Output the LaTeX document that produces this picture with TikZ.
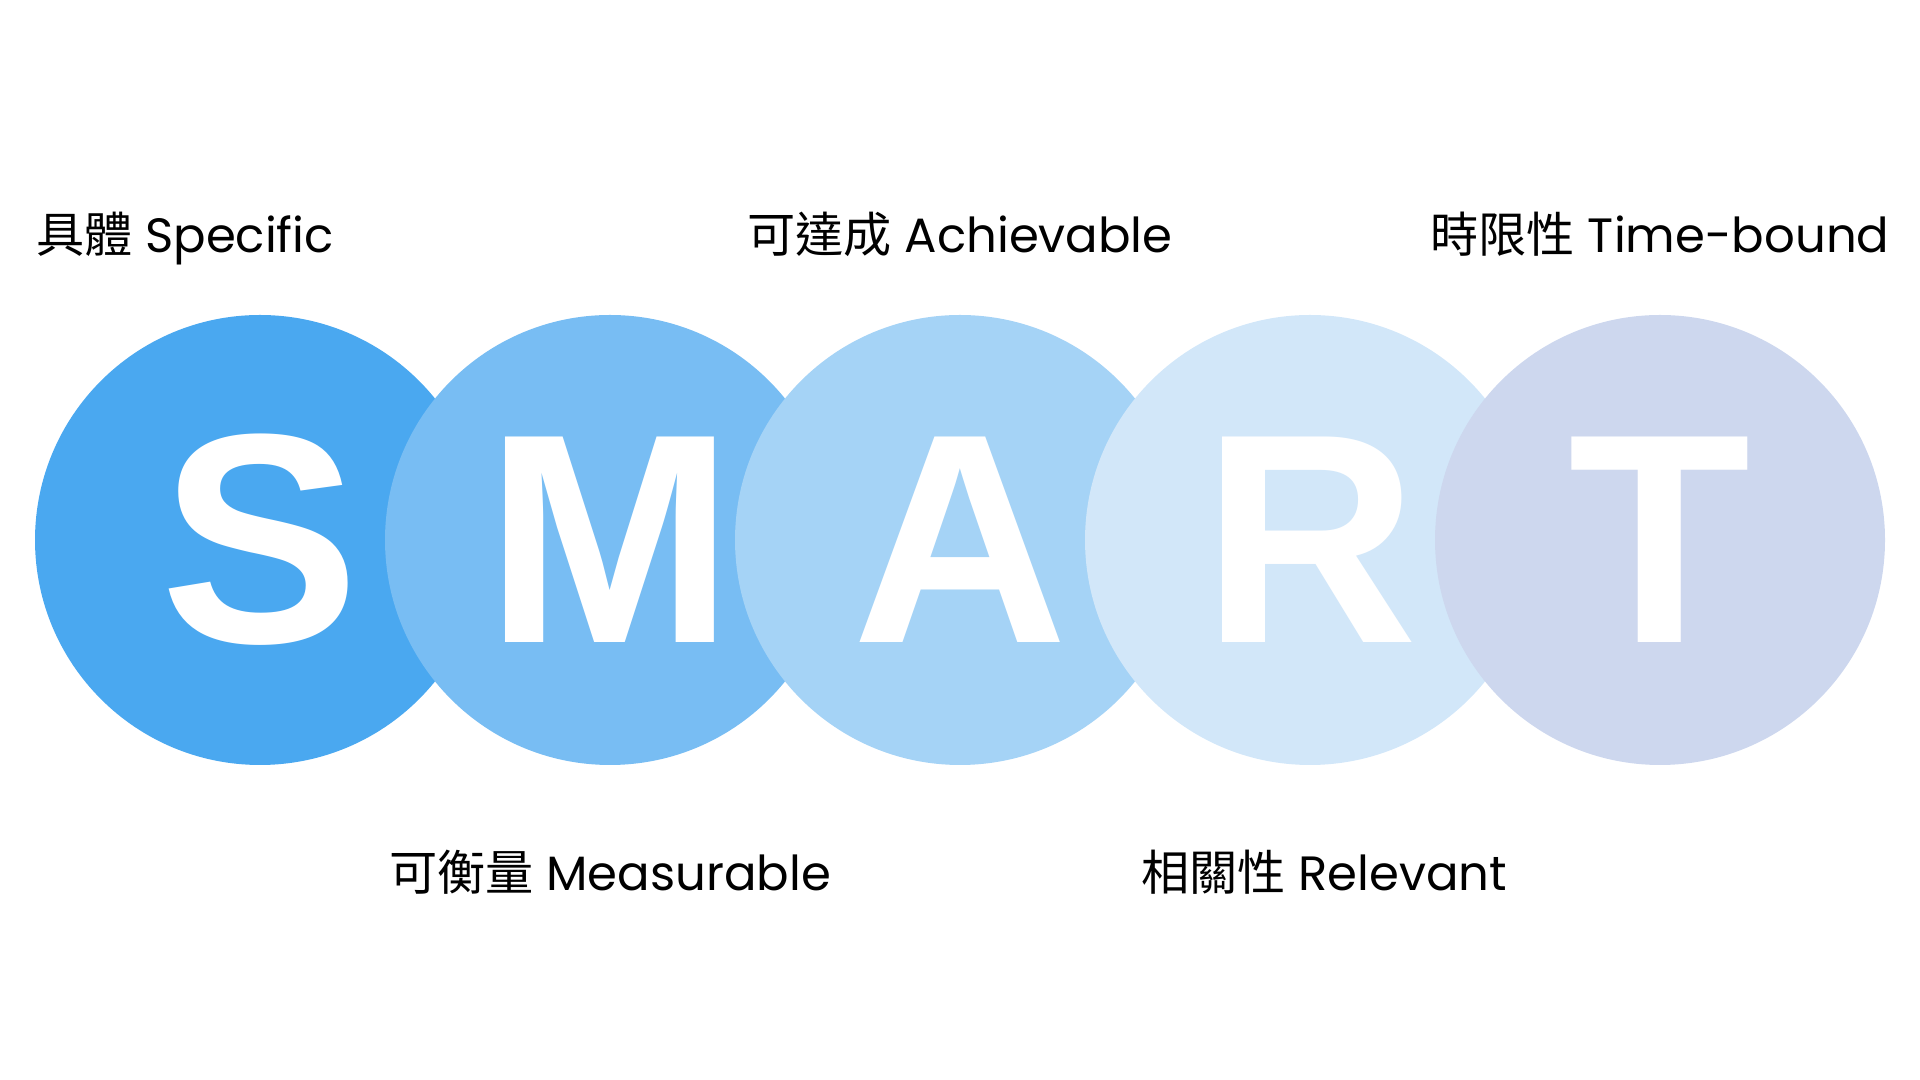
\documentclass[tikz,border=0pt]{standalone}
\usepackage{fontspec}
\setmainfont{Poppins}
\newfontfamily\cjk{Noto Sans CJK TC}
\newfontfamily\letterfont{Liberation Sans}
\usetikzlibrary{positioning}
\definecolor{colorS}{HTML}{4AA8F0}
\definecolor{colorM}{HTML}{78BDF3}
\definecolor{colorA}{HTML}{A5D3F6}
\definecolor{colorR}{HTML}{D2E7F9}
\definecolor{colorT}{HTML}{CDD7EE}

\begin{document}
\begin{tikzpicture}[node distance=-1cm,every node/.append style={align=center},letter/.style={circle, minimum size=4.5cm, inner sep=0pt, outer sep=0pt, text=white, font=\letterfont\bfseries\fontsize{85}{85}\selectfont},lbl/.style={inner sep=0pt, text height=0.45cm, text depth=0.12cm, font=\fontsize{13.7}{16}\selectfont}]
    \useasboundingbox (0,0) rectangle (19.2,10.8);
    \node [letter, fill=colorS] (S) at (2.6,5.4) {S};
    \node [letter, right=of S, fill=colorM] (M) {M};
    \node [letter, right=of M, fill=colorA] (A) {A};
    \node [letter, right=of A, fill=colorR] (R) {R};
    \node [letter, right=of R, fill=colorT] (T) {T};
    \node [lbl, above=0.5cm of S, xshift=-0.75cm] (Sl) {{\cjk 具體} Specific};
    \node [lbl, above=0.5cm of A] (Al) {{\cjk 可達成} Achievable};
    \node [lbl, above=0.5cm of T] (Tl) {{\cjk 時限性} Time-bound};
    \node [lbl, below=0.8cm of M] (Ml) {{\cjk 可衡量} Measurable};
    \node [lbl, below=0.8cm of R, xshift=0.14cm] (Rl) {{\cjk 相關性} Relevant};
\end{tikzpicture}
\end{document}
